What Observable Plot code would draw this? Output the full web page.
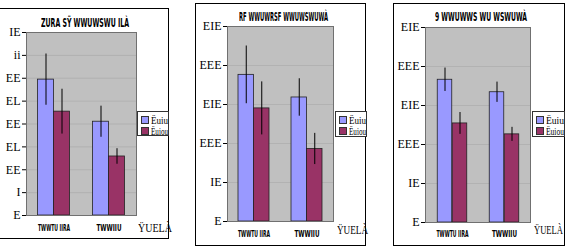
<!DOCTYPE html>
<html><head><meta charset="utf-8">
<script src="https://cdn.jsdelivr.net/npm/d3@7"></script>
<script src="https://cdn.jsdelivr.net/npm/@observablehq/plot@0.6"></script>
<style>
body{margin:0;background:#fff;color:#000;}
#root{position:relative;width:566px;height:250px;overflow:hidden;font-family:"Liberation Serif",serif;color:#000;}
.box{position:absolute;border:1px solid #000;box-sizing:border-box;}
.panel{position:absolute;}
.panel svg{display:block;overflow:visible;}
.title{position:absolute;font:bold 12px "Liberation Sans Narrow","DejaVu Sans Condensed",sans-serif;white-space:nowrap;transform-origin:left top;color:#000;}
.legend{position:absolute;background:#fff;border:1px solid #333;box-sizing:border-box;font:11px "Liberation Serif",serif;padding:2px 0 0 3px;overflow:hidden;color:#000;}
.legend .row{display:flex;align-items:center;height:11px;white-space:nowrap;}
.legend .lt{display:inline-block;transform-origin:left center;color:#000;}
.sw{width:6px;height:6px;border:1px solid #333;margin-right:2px;flex:none;}
.unit{position:absolute;font:13px "Liberation Serif",serif;white-space:nowrap;transform-origin:left top;color:#000;}
</style></head><body><div id="root"></div>
<script>
// ---- data ----
const categories = ["TWWTU IIRA", "TWWIIU"];
const seriesNames = ["Ëuiu", "Ëuiou"];
const seriesColors = ["#9999ff", "#993366"];
const titles = ["ZURA SŸ WWUWSWU ILÀ", "RF WWUWRSF WWUWSWUWÀ", "9  WWUWWS WU WSWUWÀ"];
const unitLabel = "ŸUELÀ";

const p1Blue = [29.7, 20.5], p1BlueErr = [5.6, 3.4];
const p1Red  = [22.7, 12.9], p1RedErr  = [4.9, 1.7];
const p2Blue = [188, 159],   p2BlueErr = [37, 24];
const p2Red  = [145, 93],    p2RedErr  = [34, 20];
const p3Blue = [183, 167],   p3BlueErr = [15, 13];
const p3Red  = [127, 113],   p3RedErr  = [14, 9];

const p1Ticks = [0, 5, 10, 15, 20, 25, 30, 35, 40];
const p1TickLabels = ["E", "I", "EE", "EL", "EE", "EL", "EE", "ii", "IE"];
const p23Ticks = [0, 50, 100, 150, 200, 250];
const p23TickLabels = ["E", "IE", "EEE", "EIE", "EEE", "EIE"];

// ---- layout ----
const catWidths = [32, 25];
const panels = [
  {blue: p1Blue, blueErr: p1BlueErr, red: p1Red, redErr: p1RedErr, ticks: p1Ticks, tickLabels: p1TickLabels,
   box: [-2, 8, 171, 231], svg: [0, 8, 168, 230], m: [24, 32, 23, 26], bw: 16,
   title: [41, 16, 88], legend: [137, 111, 32, 25], unit: [138, 220, 34], catDy: 15},
  {blue: p2Blue, blueErr: p2BlueErr, red: p2Red, redErr: p2RedErr, ticks: p23Ticks, tickLabels: p23TickLabels,
   box: [195, 3, 171, 243], svg: [195, 3, 170, 242], m: [23, 32, 24, 32], bw: 15.5,
   title: [239, 10, 89], legend: [335, 111, 32, 26], unit: [337, 222, 31], catDy: 15},
  {blue: p3Blue, blueErr: p3BlueErr, red: p3Red, redErr: p3RedErr, ticks: p23Ticks, tickLabels: p23TickLabels,
   box: [393, 3, 172, 243], svg: [393, 3, 171, 242], m: [24, 34, 23, 32], bw: 15,
   title: [435, 10, 92], legend: [532, 111, 33, 26], unit: [534, 222, 29], catDy: 14}
];

const root = document.getElementById("root");
function el(cls, css, html) {
  const d = document.createElement("div");
  d.className = cls;
  Object.assign(d.style, css);
  if (html != null) d.innerHTML = html;
  root.appendChild(d);
  return d;
}
function fitX(node, target) {
  const w = node.getBoundingClientRect().width;
  if (w > 0) node.style.transform = `scaleX(${target / w})`;
}

panels.forEach((p, k) => {
  el("box", {left: p.box[0] + "px", top: p.box[1] + "px", width: p.box[2] + "px", height: p.box[3] + "px"});

  const rows = [];
  categories.forEach((c, i) => {
    rows.push({cat: c, s: 0, v: p.blue[i], e: p.blueErr[i]});
    rows.push({cat: c, s: 1, v: p.red[i], e: p.redErr[i]});
  });
  const [W, H] = [p.svg[2], p.svg[3]];
  const [mt, mr, mb, ml] = p.m;
  const band = (W - ml - mr) / categories.length;
  const outer = (band - 2 * p.bw) / 2;
  const labelMap = new Map(p.ticks.map((t, i) => [t, p.tickLabels[i]]));
  const top = p.ticks[p.ticks.length - 1];

  const chart = Plot.plot({
    width: W, height: H,
    marginTop: mt, marginRight: mr, marginBottom: mb, marginLeft: ml,
    style: {background: "transparent", fontFamily: "'Liberation Serif', serif", fontSize: "12px", color: "#000"},
    x: {domain: categories, padding: 0, axis: null},
    y: {domain: [0, top], ticks: p.ticks, tickFormat: d => labelMap.get(d), tickSize: 4, tickPadding: 2, label: null},
    marks: [
      Plot.frame({fill: "#c0c0c0"}),
      Plot.ruleY(p.ticks.slice(1, -1), {stroke: "#a6a6a6", strokeOpacity: 0.55}),
      Plot.barY(rows.filter(d => d.s === 0), {x: "cat", y: "v", fill: seriesColors[0], stroke: "#222", strokeWidth: 0.8,
        insetLeft: outer, insetRight: outer + p.bw}),
      Plot.barY(rows.filter(d => d.s === 1), {x: "cat", y: "v", fill: seriesColors[1], stroke: "#222", strokeWidth: 0.8,
        insetLeft: outer + p.bw, insetRight: outer}),
      Plot.ruleX(rows.filter(d => d.s === 0), {x: "cat", y1: d => d.v - d.e, y2: d => d.v + d.e, stroke: "#000", strokeWidth: 1, dx: -p.bw / 2}),
      Plot.ruleX(rows.filter(d => d.s === 1), {x: "cat", y1: d => d.v - d.e, y2: d => d.v + d.e, stroke: "#000", strokeWidth: 1, dx: p.bw / 2}),
      Plot.frame({stroke: "#707070"}),
      Plot.text(categories, {x: d => d, frameAnchor: "bottom", dy: p.catDy, text: d => d,
        fontFamily: "'Liberation Sans Narrow','DejaVu Sans Condensed',sans-serif", fontSize: 9, fontWeight: "bold", fill: "#000"})
    ]
  });
  const holder = el("panel", {left: p.svg[0] + "px", top: p.svg[1] + "px", width: W + "px", height: H + "px"});
  holder.appendChild(chart);
  const svgTexts = Array.from(chart.querySelectorAll("text")).filter(t => categories.includes(t.textContent));
  svgTexts.forEach(t => {
    const i = categories.indexOf(t.textContent);
    t.setAttribute("textLength", catWidths[i]);
    t.setAttribute("lengthAdjust", "spacingAndGlyphs");
  });

  const t = el("title", {left: p.title[0] + "px", top: p.title[1] + "px"}, titles[k]);
  fitX(t, p.title[2]);

  const lg = el("legend", {left: p.legend[0] + "px", top: p.legend[1] + "px", width: p.legend[2] + "px", height: p.legend[3] + "px"});
  seriesNames.forEach((n, i) => {
    const r = document.createElement("div");
    r.className = "row";
    r.innerHTML = `<span class="sw" style="background:${seriesColors[i]}"></span><span class="lt">${n}</span>`;
    lg.appendChild(r);
    const lt = r.querySelector(".lt");
    const avail = p.legend[2] - 15;
    if (lt.getBoundingClientRect().width > avail) fitX(lt, avail);
  });

  const u = el("unit", {left: p.unit[0] + "px", top: p.unit[1] + "px"}, unitLabel);
  fitX(u, p.unit[2]);
});
</script>
</body></html>
